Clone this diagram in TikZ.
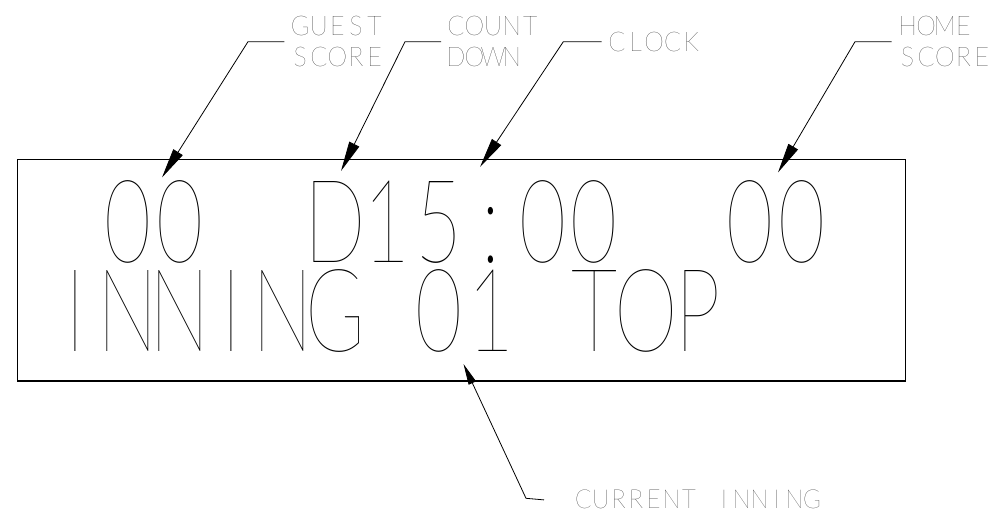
\documentclass[tikz,border=0pt]{standalone}
\usepackage{fontspec}
\usepackage{graphicx}
\usetikzlibrary{arrows.meta}
\IfFontExistsTF{Lato Hairline}{\newfontfamily\cadfont{Lato Hairline}}{%
 \IfFontExistsTF{Fira Sans Hair}{\newfontfamily\cadfont{Fira Sans Hair}}{%
  \IfFontExistsTF{Lato Thin}{\newfontfamily\cadfont{Lato Thin}}{%
   \IfFontExistsTF{Fira Sans Thin}{\newfontfamily\cadfont{Fira Sans Thin}}{%
    \IfFontExistsTF{Open Sans Light}{\newfontfamily\cadfont{Open Sans Light}}{%
     \newfontfamily\cadfont{DejaVu Sans}}}}}}
\newlength\cadcap
\newlength\cadzw
\settoheight\cadcap{\cadfont H}
\settowidth\cadzw{\cadfont 0}
\makeatletter
% #1 cap height, #2 cell pitch, #3 advance of a zero, #4 text
\newcommand\cadcells[4]{%
  \pgfmathsetmacro\cad@y{#1/\cadcap}%
  \pgfmathsetmacro\cad@x{#3/\cadzw}%
  \@tfor\cad@c:=#4\do{\makebox[#2pt][c]{\scalebox{\cad@x}[\cad@y]{\cadfont\cad@c}}}}
\makeatother
\tikzset{
  lead/.style={line width=0.8pt, -{Triangle[length=30pt,width=11pt]}},
  leadsmall/.style={line width=0.8pt, -{Triangle[length=21pt,width=8pt]}},
  lbl/.style={inner sep=0pt, align=left, font=\fontsize{10}{31}\selectfont},
  bigrow/.style={inner sep=0pt, anchor=base west}
}
\begin{document}
\begin{tikzpicture}[x=1pt,y=-1pt]
\useasboundingbox (0,0) rectangle (998,526);
% panel
\node[draw, line width=1.4pt, minimum width=888pt, minimum height=221.7pt, inner sep=0pt] (panel) at (461.3,270.2) {};
% display text
\node[bigrow] (row1) at (101.6,262.7) {\cadcells{81}{51.85}{47}{00~~D15:00~~00}};
\node[bigrow] (row2) at (49.7,352) {\cadcells{81}{51.85}{47}{INNING~01~TOP}};
% labels
\node[lbl, anchor=west] (guest) at (290.7,41.7) {\cadcells{19}{18.6}{14.5}{GUEST}\\\cadcells{19}{18.6}{14.5}{SCORE}};
\node[lbl, anchor=west] (count) at (446.4,41.7) {\cadcells{19}{18.6}{14.5}{COUNT}\\\cadcells{19}{18.6}{14.5}{DOWN}};
\node[lbl, anchor=west] (clock) at (607.4,42.2) {\cadcells{19}{18.6}{14.5}{CLOCK}};
\node[lbl, anchor=west] (home) at (898.1,41.7) {\cadcells{19}{18.6}{14.5}{HOME}\\\cadcells{19}{18.6}{14.5}{SCORE}};
\node[lbl, anchor=west] (current) at (574.3,499.1) {\cadcells{18.3}{17.6}{14}{CURRENT~INNING}};
% leader coordinates
\coordinate (gbend) at (248,41.7);   \coordinate (gtip) at (162,177.5);
\coordinate (cbend) at (405,41.7);   \coordinate (ctip) at (341,171);
\coordinate (kbend) at (563.3,41.7); \coordinate (ktip) at (480,167);
\coordinate (hbend) at (855,41.7);   \coordinate (htip) at (778,172.5);
\coordinate (ibend) at (526,498.3);  \coordinate (itip) at (463.5,364);
% leaders
\draw[lead] ([xshift=-6.4pt]guest.west) -- (gbend) -- (gtip);
\draw[lead] ([xshift=-5.4pt]count.west) -- (cbend) -- (ctip);
\draw[lead] ([xshift=-5.7pt,yshift=0.5pt]clock.west) -- (kbend) -- (ktip);
\draw[lead] ([xshift=-6.4pt]home.west) -- (hbend) -- (htip);
\draw[leadsmall] ([xshift=-30.3pt,yshift=-0.8pt]current.west) -- (ibend) -- (itip);
\end{tikzpicture}
\end{document}
